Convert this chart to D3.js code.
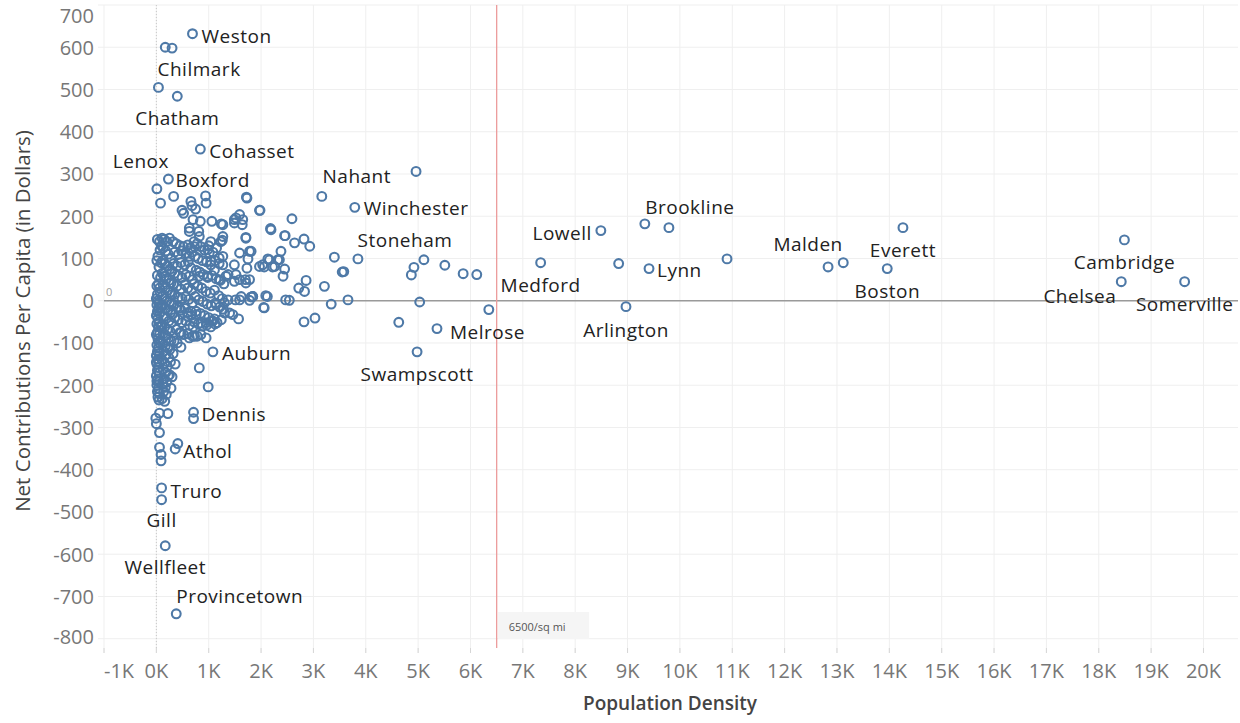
<!DOCTYPE html>
<html><head><meta charset="utf-8">
<script src="https://cdn.jsdelivr.net/npm/d3@7"></script>
<style>
html,body{margin:0;padding:0;background:#fff;}
svg{display:block;font-family:"Open Sans","Noto Sans",sans-serif;}
</style></head>
<body><svg id="chart" width="1240" height="723"></svg>
<script>
// ---- data: [population density (people / sq mi), net contribution per capita ($)] ----
const outlierPoints = [
 [690,632],[170,600],[300,598],[40,505],[400,484],[840,359],[230,288],[10,265],[80,231],[330,247],
 [490,214],[520,207],[660,235],[680,225],[750,217],[940,248],[950,231],[1730,243],[700,192],[840,188],
 [1060,188],[1240,182],[1270,180],[810,164],[820,152],[1270,152],[1490,192],[1590,204],[1640,180],[1980,214],
 [2590,194],[2180,171],[2190,168],[2450,154],[2640,137],[2820,146],[2930,129],[2380,117],[2320,97],[2450,75],
 [2420,58],[2160,97],[2030,85],[2060,80],[2220,80],[1810,117],[1750,99],[1710,150],[1490,85],[2860,48],
 [2720,30],[2830,22],[2540,1],[2120,10],[2050,-16],[1840,10],[1780,1],[1620,10],[1570,-43],[1400,-29],
 [1460,-33],[1700,50],[1710,42],[1490,46],[1330,58],[1270,105],[1370,2],[1510,2]
];
const midPoints = [
 [3160,247],[3790,221],[4960,306],[3850,99],[3400,103],[3550,68],[3580,69],[3210,34],[3660,2],[3340,-8],
 [3030,-41],[2820,-50],[4630,-51],[4980,-121],[5360,-66],[6350,-21],[5030,-3],[4870,61],[4920,79],[5110,97],
 [5510,84],[5860,64],[6120,62]
];
const cityPoints = [
 [8490,166],[9330,182],[9790,173],[7340,90],[8830,88],[9410,76],[10900,99],[8970,-14],[12830,80],[13120,90],
 [13960,76],[14260,173],[18490,144],[18430,45],[19640,45]
];
const negativePoints = [
 [1080,-121],[820,-159],[990,-204],[690,-84],[780,-84],[280,-207],[710,-264],[710,-279],[220,-267],[60,-266],
 [-10,-278],[0,-291],[60,-312],[60,-347],[90,-364],[90,-379],[410,-338],[360,-351],[100,-443],[100,-471],
 [170,-580],[380,-741]
];
const clusterPoints = [
 [20,145],[60,140],[30,105],[10,95],[50,80],[20,60],[40,40],[10,35],[60,30],[20,15],[0,5],[30,0],[50,-5],
 [10,-10],[40,-18],[20,-25],[60,-30],[0,-35],[30,-42],[50,-50],[10,-55],[40,-62],[20,-75],[60,-78],[0,-80],
 [30,-90],[50,-98],[10,-105],[40,-112],[20,-120],[60,-125],[0,-130],[30,-138],[50,-145],[10,-150],[40,-158],
 [20,-165],[60,-170],[0,-178],[30,-185],[50,-192],[10,-200],[40,-208],[20,-215],[60,-220],[30,-228],[50,-235],
 [10,-190],[0,-145],[70,-100],[80,-60],[90,-15],[70,20],[80,55],[90,90],[70,120],[100,130],
 [110,148],[150,145],[200,140],[250,148],[130,125],[180,118],[230,110],[280,100],[120,95],[160,88],[210,82],
 [260,75],[300,70],[110,65],[150,58],[190,52],[240,48],[280,42],[130,38],[170,30],[220,25],[260,20],[300,15],
 [110,10],[150,5],[200,0],[250,-3],[290,-8],[120,-12],[170,-18],[220,-22],[270,-28],[310,-32],[140,-38],
 [190,-42],[240,-48],[290,-52],[110,-58],[160,-62],[210,-68],[260,-72],[130,-78],[180,-82],[230,-88],[280,-95],
 [120,-100],[170,-108],[220,-112],[140,-120],[190,-128],[240,-135],[110,-140],[160,-148],[210,-155],[130,-162],
 [180,-170],[230,-178],[150,-185],[200,-192],[120,-198],[170,-205],[140,-215],[190,-222],[110,-232],[160,-238],
 [250,-175],[270,-145],[260,-115],
 [320,140],[380,135],[450,130],[520,128],[600,132],[650,125],[350,115],[420,110],[480,118],[560,112],[630,105],
 [680,115],[330,88],[400,82],[470,90],[540,85],[610,92],[660,78],[350,65],[420,60],[490,55],[560,62],[630,58],
 [690,50],[330,40],[400,35],[470,28],[540,38],[600,30],[670,25],[350,15],[420,8],[490,5],[560,10],[620,3],
 [690,-5],[330,-10],[400,-15],[470,-22],[540,-18],[600,-28],[660,-35],[350,-40],[420,-45],[490,-52],[560,-48],
 [630,-58],[700,-62],[380,-68],[450,-75],[520,-80],[600,-78],[340,-95],[400,-100],[470,-110],[320,-125],
 [360,-150],[300,-180],
 [720,140],[780,135],[850,128],[920,120],[1000,130],[1080,115],[1150,125],[1230,140],[1260,143],[740,105],
 [800,100],[880,95],[960,92],[1040,85],[1120,95],[1200,88],[760,72],[830,68],[900,62],[980,55],[1060,60],
 [1140,52],[1220,48],[1290,40],[720,40],[790,35],[870,30],[950,22],[1030,18],[1110,25],[1190,12],[1260,5],
 [740,10],[810,2],[890,-2],[970,-8],[1050,-12],[1130,-5],[1210,-15],[1280,-20],[760,-25],[840,-30],[920,-35],
 [1000,-40],[1080,-48],[1160,-52],[1240,-45],[800,-55],[880,-60],[960,-58],[1040,-62],[1120,-55],[720,-50],
 [850,-80],[950,-88],
 [1590,113],[1710,148],[1780,117],[1720,245],[1970,214],[1520,196],[1650,192],[1490,184],[2460,154],[2350,97],
 [2130,99],[1970,81],[2260,81],[1730,77],[1780,50],[1520,62],[1590,50],[1200,50],[1110,73],[1270,85],[1370,62],
 [980,58],[820,58],[1040,93],[1200,101],[980,121],[1010,113],[1040,140],[730,128],[630,164],[630,172],
 [2060,-17],[1810,9],[2090,12],[2470,2],[1140,-9],[950,-52],[1050,-49],[1110,-43],[850,-53],[760,-33],[660,-25],
 [600,-37],[440,-17],[470,-76],[630,-88],[730,-84],[1300,-5],[1590,2],[1840,10],[1300,-29]
];

// ---- labelled towns: name, density, value ----
const labelNames   = ["Weston","Chilmark","Chatham","Cohasset","Lenox","Boxford","Nahant","Winchester","Stoneham","Swampscott","Melrose","Medford","Lowell","Brookline","Lynn","Arlington","Malden","Everett","Boston","Cambridge","Chelsea","Somerville","Auburn","Dennis","Athol","Truro","Gill","Wellfleet","Provincetown"];
const labelDensity = [690,300,400,840,10,230,3160,3790,3850,4980,5360,7340,8490,9330,9410,8970,12830,14260,13960,18490,18430,19640,1080,710,360,100,100,170,380];
const labelValue   = [632,598,484,359,265,288,247,221,99,-121,-66,90,166,182,76,-14,80,173,76,144,45,45,-121,-264,-351,-443,-471,-580,-741];
// label placement relative to its circle: [anchor, dx, dy] (pixels)
const labelPlacement = [["start",9,2],["middle",27,21],["middle",0,22],["start",9,2],["middle",-16,-28],["start",7,1],
 ["middle",35,-20],["start",9,1],["middle",47,-19],["middle",0,22],["start",13,3],["middle",0,22],["end",-9,2],
 ["middle",45,-17],["start",8,1],["middle",0,23],["middle",-20,-23],["middle",0,22],["middle",0,22],["middle",0,22],
 ["end",-5,14],["middle",0,22],["start",9,1],["start",8,2],["start",8,2],["start",9,3],["middle",0,20],["middle",0,21],["start",0,-18]];

const xTicks = d3.range(-1000, 20001, 1000);
const yTicks = d3.range(-800, 701, 100);
const referenceDensity = 6500;
const referenceLabel = "6500/sq mi";
const xTitle = "Population Density";
const yTitle = "Net Contributions Per Capita (in Dollars)";

// ---- drawing ----
const svg = d3.select("#chart");
const L = 104, R = 1238, T = 5, B = 648;
const x = d3.scaleLinear().domain([-1000, 20650]).range([L, 1237.5]);
const y = d3.scaleLinear().domain([-822, 700]).range([B, T]);

const allPoints = [...outlierPoints, ...midPoints, ...cityPoints, ...negativePoints, ...clusterPoints];

// gridlines
svg.append("g").selectAll("line").data(yTicks).join("line")
  .attr("x1", L - 6).attr("x2", R).attr("y1", d => y(d)).attr("y2", d => y(d))
  .attr("stroke", "#efefef").attr("stroke-width", 1);
svg.append("g").selectAll("line").data(xTicks).join("line")
  .attr("x1", d => x(d)).attr("x2", d => x(d)).attr("y1", T).attr("y2", B + 5)
  .attr("stroke", "#efefef").attr("stroke-width", 1);

// zero lines
svg.append("line").attr("x1", x(0)).attr("x2", x(0)).attr("y1", T).attr("y2", B)
  .attr("stroke", "#c8c8c8").attr("stroke-dasharray", "1,2").attr("stroke-width", 1);
svg.append("line").attr("x1", L).attr("x2", R).attr("y1", y(0)).attr("y2", y(0))
  .attr("stroke", "#9a9a9a").attr("stroke-width", 1.3);
svg.append("text").attr("x", L + 2).attr("y", y(0) - 5).text("0")
  .attr("font-size", 11).attr("fill", "#a0a0a0");

// reference line
svg.append("line").attr("x1", x(referenceDensity)).attr("x2", x(referenceDensity)).attr("y1", T).attr("y2", B)
  .attr("stroke", "#ec9c9c").attr("stroke-width", 1.3);
const refG = svg.append("g");
refG.append("rect").attr("x", x(referenceDensity) + 1.5).attr("y", 612).attr("width", 91).attr("height", 27)
  .attr("fill", "#f5f5f5");
refG.append("text").attr("x", x(referenceDensity) + 12).attr("y", 626).attr("dominant-baseline", "central")
  .attr("font-size", 11).attr("fill", "#555").text(referenceLabel);

// axes labels
const fmtK = d => (d / 1000) + "K";
svg.append("g").selectAll("text").data(yTicks).join("text")
  .attr("x", 94).attr("text-anchor", "end").attr("dominant-baseline", "central")
  .attr("y", d => Math.min(Math.max(y(d), T + 10), B - 12))
  .attr("font-size", 20).attr("fill", "#777").text(d => d);
svg.append("g").selectAll("line").data(xTicks).join("line")
  .attr("x1", d => x(d)).attr("x2", d => x(d)).attr("y1", B).attr("y2", B + 5)
  .attr("stroke", "#d6d6d6");
svg.append("g").selectAll("text").data(xTicks).join("text")
  .attr("y", 670).attr("text-anchor", "middle").attr("dominant-baseline", "central")
  .attr("font-size", 20).attr("fill", "#777").text(fmtK)
  .each(function(d){
    const w = this.getComputedTextLength();
    d3.select(this).attr("x", Math.max(x(d), L + w / 2));
  });

svg.append("text").attr("x", 670).attr("y", 703).attr("text-anchor", "middle").attr("dominant-baseline", "central")
  .attr("font-size", 19).attr("font-weight", 600).attr("fill", "#444").text(xTitle);
svg.append("text").attr("transform", "translate(22,321) rotate(-90)").attr("text-anchor", "middle")
  .attr("dominant-baseline", "central").attr("font-size", 20.5).attr("fill", "#444").text(yTitle);

// points
svg.append("g").selectAll("circle").data(allPoints).join("circle")
  .attr("cx", d => x(d[0])).attr("cy", d => y(d[1])).attr("r", 4.4)
  .attr("fill", "none").attr("stroke", "#4e79a7").attr("stroke-width", 2.1);

// town labels
svg.append("g").selectAll("text").data(labelNames).join("text")
  .attr("x", (d, i) => x(labelDensity[i]) + labelPlacement[i][1])
  .attr("y", (d, i) => y(labelValue[i]) + labelPlacement[i][2])
  .attr("text-anchor", (d, i) => labelPlacement[i][0])
  .attr("dominant-baseline", "central")
  .attr("font-size", 19).attr("letter-spacing", 0.5).attr("fill", "#222").text(d => d);
</script></body></html>
